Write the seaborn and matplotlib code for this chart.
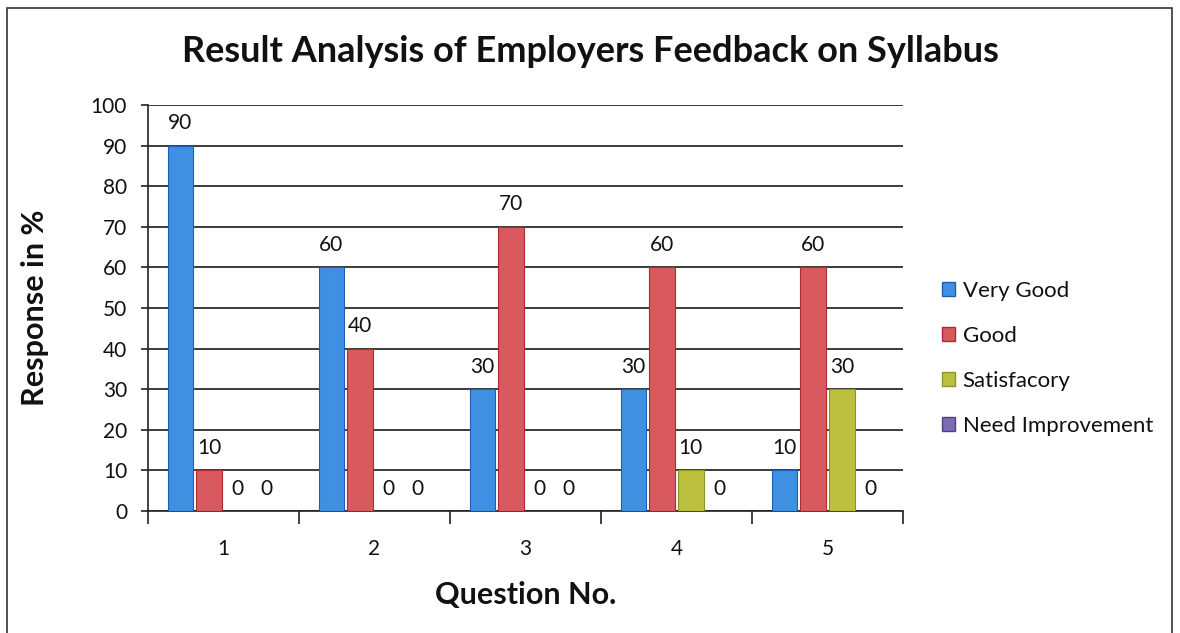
import matplotlib
matplotlib.use("Agg")
import matplotlib.pyplot as plt
from matplotlib.patches import Rectangle
import seaborn as sns
import pandas as pd

questions = ["1", "2", "3", "4", "5"]
ratings = ["Very Good", "Good", "Satisfacory", "Need Improvement"]
very_good = [90, 60, 30, 30, 10]
good = [10, 40, 70, 60, 60]
satisfactory = [0, 0, 0, 10, 30]
need_improvement = [0, 0, 0, 0, 0]
y_ticks = list(range(0, 101, 10))

colors = ["#3f8fe2", "#d95a5e", "#bcc03e", "#7d6bb4"]
edges = ["#1d5fb8", "#b02a30", "#8f942a", "#4f3f8a"]

series = [very_good, good, satisfactory, need_improvement]
rows = []
for rating, vals in zip(ratings, series):
    for q, v in zip(questions, vals):
        rows.append({"Question": q, "Rating": rating, "Response": v})
df = pd.DataFrame(rows)

sns.set_theme(style="white")
plt.rcParams["font.family"] = ["Lato", "DejaVu Sans"]

fig = plt.figure(figsize=(11.8, 6.33), dpi=100)
ax = fig.add_axes([0.1254, 0.1927, 0.6399, 0.6414])

sns.barplot(data=df, x="Question", y="Response", hue="Rating",
            hue_order=ratings, order=questions, palette=colors,
            saturation=1, width=0.76, gap=0.1, ax=ax, legend=False,
            errorbar=None, zorder=3)

for cont, ec in zip(ax.containers, edges):
    for bar in cont:
        bar.set_edgecolor(ec)
        bar.set_linewidth(0.8 if bar.get_height() > 0 else 0)
    ax.bar_label(cont, labels=[f"{int(b.get_height())}" for b in cont],
                 padding=9, fontsize=15, color="#111111")

ax.set_ylim(0, 100)
ax.set_xlim(-0.5, 4.5)
ax.set_yticks(y_ticks)
ax.set_yticklabels([str(t) for t in y_ticks], fontsize=15, color="#111111")
ax.set_xticks(range(len(questions)))
ax.set_xticklabels(questions, fontsize=15, color="#111111")
ax.set_xticks([i - 0.5 for i in range(len(questions) + 1)], minor=True)
ax.tick_params(axis="x", which="major", length=0, pad=20)
ax.tick_params(axis="x", which="minor", length=9, width=1.2, color="#222222",
               direction="out", bottom=True)
ax.tick_params(axis="y", which="major", length=5, width=1.2, color="#222222",
               direction="out", left=True, pad=10)

ax.yaxis.grid(True, color="#1a1a1a", linewidth=1.2, zorder=0)
ax.set_axisbelow(True)
for side in ["top", "right"]:
    ax.spines[side].set_visible(False)
for side in ["left", "bottom"]:
    ax.spines[side].set_color("#222222")
    ax.spines[side].set_linewidth(1.2)

ax.set_xlabel("Question No.", fontsize=22, fontweight="bold", color="#111111",
              labelpad=16)
ax.set_ylabel("Response in %", fontsize=22, fontweight="bold", color="#111111",
              labelpad=30)

fig.text(0.5, 0.918, "Result Analysis of Employers Feedback on Syllabus",
         ha="center", va="center", fontsize=26, fontweight="bold",
         color="#111111")

handles = [Rectangle((0, 0), 1, 1, facecolor=c, edgecolor=e, linewidth=1)
           for c, e in zip(colors, edges)]
fig.legend(handles, ratings, loc="center left",
           bbox_to_anchor=(0.781, 0.434), frameon=False, fontsize=16,
           handlelength=0.6, handleheight=0.6, handletextpad=0.35,
           labelspacing=1.13, labelcolor="#111111")

fig.patches.append(Rectangle((0.006, -0.05), 0.987, 1.037,
                             transform=fig.transFigure, fill=False,
                             edgecolor="#333333", linewidth=1.2))

fig.savefig("out.png", dpi=100, facecolor="white")
